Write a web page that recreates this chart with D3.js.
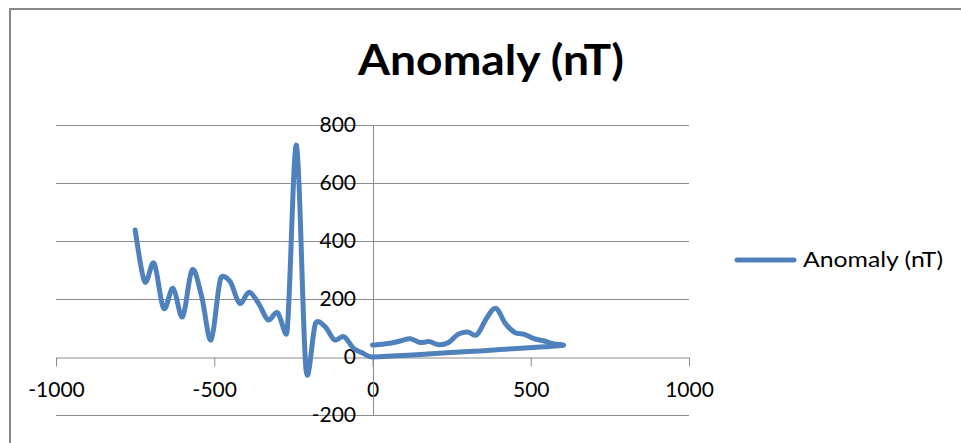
<!DOCTYPE html>
<html>
<head>
<meta charset="utf-8">
<script src="https://cdn.jsdelivr.net/npm/d3@7"></script>
<style>
  body { margin: 0; background: #fff; }
  svg { display: block; }
</style>
</head>
<body>
<div id="chart"></div>
<script>
// profile distance (x) and magnetic anomaly (nT), in the order the points were plotted
const distance = [-750, -720, -690, -660, -630, -600, -570, -540, -510, -480, -450, -420, -390,
  -360, -330, -300, -270, -240, -210, -180, -150, -120, -90, -60, -30, 0,
  600, 570, 540, 510, 480, 450, 420, 390, 360, 330, 300, 270, 240, 210, 180, 150, 120, 90, 60, 30, 0];
const anomaly = [438, 260, 323, 168, 237, 139, 300, 210, 59, 271, 260, 185, 223,
  185, 128, 153, 87, 730, -45, 116, 105, 59, 70, 30, 13, 0,
  40, 46, 56, 63, 78, 84, 115, 168, 133, 77, 86, 78, 50, 42, 53, 50, 63, 56, 48, 44, 41];

const xTicks = [-1000, -500, 0, 500, 1000];
const yTicks = [-200, 0, 200, 400, 600, 800];
const seriesName = "Anomaly (nT)";

const width = 961, height = 443;
const blue = "#4f81bd";
const grid = "#8c8c8c";
const font = "Lato, 'Open Sans', sans-serif";

const points = distance.map((d, i) => ({ x: d, y: anomaly[i] }));

const svg = d3.select("#chart").append("svg")
  .attr("width", width)
  .attr("height", height);

svg.append("rect").attr("width", width).attr("height", height).attr("fill", "#fff");

// chart frame (runs off the right and bottom of the window)
svg.append("rect")
  .attr("x", 10).attr("y", 9)
  .attr("width", 1000).attr("height", 500)
  .attr("fill", "none")
  .attr("stroke", "#878787")
  .attr("stroke-width", 2);

const x = d3.scaleLinear().domain([-1000, 1000]).range([56, 689]);
const y = d3.scaleLinear().domain([-200, 800]).range([415, 125]);

// horizontal gridlines
svg.append("g")
  .selectAll("line")
  .data(yTicks.filter(t => t !== 0))
  .join("line")
  .attr("x1", x(-1000)).attr("x2", x(1000))
  .attr("y1", d => y(d) + 0.5).attr("y2", d => y(d) + 0.5)
  .attr("stroke", grid)
  .attr("stroke-width", 1);

// x axis crossing at y = 0
const xAxis = svg.append("g")
  .attr("transform", `translate(0,${y(0) + 0.5})`)
  .call(d3.axisBottom(x).tickValues(xTicks).tickFormat(d => String(d))
    .tickSize(9).tickSizeOuter(0).tickPadding(16));
xAxis.select(".domain").attr("stroke", grid);
xAxis.selectAll(".tick line").attr("stroke", grid);
xAxis.selectAll(".tick text")
  .attr("font-family", font)
  .attr("font-size", 21)
  .attr("fill", "#000");

// y axis crossing at x = 0
const yAxis = svg.append("g")
  .attr("transform", `translate(${x(0) + 0.5},0)`)
  .call(d3.axisLeft(y).tickValues(yTicks).tickFormat(d => String(d))
    .tickSize(0).tickPadding(17));
yAxis.select(".domain").attr("stroke", grid);
yAxis.selectAll(".tick text")
  .attr("font-family", font)
  .attr("font-size", 21)
  .attr("fill", "#000");

// Excel-style smoothing: catmull-rom arms, but never longer than half the
// segment they sit on (keeps the long jump back to 600 from overshooting)
function smoothPath(pts, c) {
  const p = d3.path();
  const tan = i => {
    const a = pts[Math.max(i - 1, 0)], b = pts[Math.min(i + 1, pts.length - 1)];
    return [(b[0] - a[0]) / 6, (b[1] - a[1]) / 6];
  };
  const clamp = (v, max) => {
    const len = Math.hypot(v[0], v[1]);
    return len > max ? [v[0] * max / len, v[1] * max / len] : v;
  };
  p.moveTo(pts[0][0], pts[0][1]);
  for (let i = 0; i < pts.length - 1; i++) {
    const a = pts[i], b = pts[i + 1];
    const seg = Math.hypot(b[0] - a[0], b[1] - a[1]);
    const ta = clamp(tan(i), seg * c), tb = clamp(tan(i + 1), seg * c);
    p.bezierCurveTo(a[0] + ta[0], a[1] + ta[1], b[0] - tb[0], b[1] - tb[1], b[0], b[1]);
  }
  return p.toString();
}

svg.append("path")
  .datum(points)
  .attr("d", d => smoothPath(d.map(q => [x(q.x), y(q.y)]), 0.5))
  .attr("fill", "none")
  .attr("stroke", blue)
  .attr("stroke-width", 5)
  .attr("stroke-linejoin", "round")
  .attr("stroke-linecap", "round");

// title (text is a bit wide in the original, so stretch it sideways)
svg.append("text")
  .attr("transform", "translate(491,75) scale(1.1,1)")
  .attr("text-anchor", "middle")
  .attr("font-family", font)
  .attr("font-weight", "bold")
  .attr("font-size", 42)
  .attr("fill", "#000")
  .text(seriesName);

// legend
const legend = svg.append("g").attr("transform", "translate(737,260)");
legend.append("line")
  .attr("x1", 0).attr("x2", 57)
  .attr("stroke", blue)
  .attr("stroke-width", 5)
  .attr("stroke-linecap", "round");
legend.append("text")
  .attr("transform", "translate(66,0) scale(1.18,1)")
  .attr("dy", "0.35em")
  .attr("font-family", font)
  .attr("font-size", 21)
  .attr("fill", "#000")
  .text(seriesName);
</script>
</body>
</html>
